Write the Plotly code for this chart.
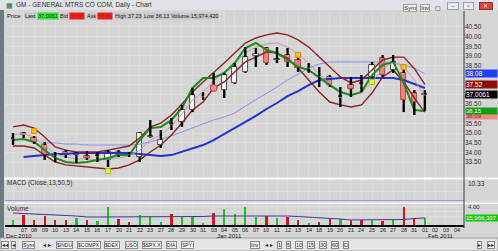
import plotly.graph_objects as go

W, H = 498, 251
def PX(x): return x / W
def PY(y): return 1 - y / H

FONT = "Liberation Sans"

# ---------------- data ----------------
dates = ["2010-12-06", "2010-12-07", "2010-12-08", "2010-12-09", "2010-12-10",
         "2010-12-13", "2010-12-14", "2010-12-15", "2010-12-16", "2010-12-17",
         "2010-12-20", "2010-12-21", "2010-12-22", "2010-12-23", "2010-12-27",
         "2010-12-28", "2010-12-29", "2010-12-30", "2010-12-31",
         "2011-01-03", "2011-01-04", "2011-01-05", "2011-01-06", "2011-01-07",
         "2011-01-10", "2011-01-11", "2011-01-12", "2011-01-13", "2011-01-14",
         "2011-01-18", "2011-01-19", "2011-01-20", "2011-01-21", "2011-01-24",
         "2011-01-25", "2011-01-26", "2011-01-27", "2011-01-28", "2011-01-31",
         "2011-02-01"]
future_dates = ["2011-02-02", "2011-02-03", "2011-02-04"]

opens = [34.68, 35.00, 34.75, 34.38, 33.74, 34.02, 33.86, 33.81, 33.80, 33.61,
         34.02, 33.86, 33.76, 34.78, 34.38, 35.45, 35.58, 36.20, 36.90, 37.44,
         37.23, 37.60, 38.17, 39.00, 39.41, 38.80, 39.05, 38.79, 38.35, 37.90,
         37.91, 36.85, 37.49, 37.55, 37.91, 38.89, 38.27, 38.12, 37.08, 36.96]
highs = [35.00, 35.06, 34.85, 34.54, 34.02, 34.12, 34.02, 34.07, 34.02, 34.12,
         34.12, 34.02, 35.06, 35.68, 35.16, 35.78, 36.46, 37.34, 37.13, 38.12,
         38.12, 38.63, 39.46, 39.41, 39.46, 39.46, 39.41, 38.89, 38.63, 38.43,
         38.01, 37.39, 37.91, 38.01, 38.69, 39.05, 39.05, 38.27, 37.23, 37.23]
lows = [34.38, 34.75, 34.44, 33.61, 33.50, 33.71, 33.45, 33.61, 33.50, 33.24,
        33.76, 33.76, 33.50, 34.75, 34.23, 35.16, 35.32, 36.09, 36.72, 37.18,
        36.82, 37.55, 38.12, 38.43, 38.53, 38.63, 38.43, 38.17, 38.12, 37.39,
        37.39, 36.35, 36.87, 37.13, 37.86, 37.91, 38.12, 36.09, 35.94, 36.13]
closes = [34.72, 34.90, 34.54, 33.86, 33.78, 33.86, 33.97, 33.71, 33.84, 34.02,
          33.86, 33.90, 35.00, 34.85, 34.64, 35.50, 36.20, 36.97, 36.94, 37.23,
          38.01, 38.43, 38.94, 39.10, 38.63, 38.82, 38.69, 38.37, 38.40, 37.95,
          37.49, 36.90, 37.29, 37.60, 38.53, 38.01, 38.69, 36.72, 36.61, 37.0061]
# candle style: w = hollow up, r = down, k = narrow-range bar
candle_kind = ["k", "r", "r", "r", "k", "r", "w", "r", "k", "w",
               "r", "k", "w", "w", "w", "k", "w", "w", "k", "r",
               "w", "w", "w", "w", "r", "w", "r", "r", "k", "k",
               "r", "k", "r", "k", "w", "r", "w", "r", "r", "w"]

band_upper = [35.32, 35.42, 35.26, 34.80, 34.28, 34.12, 34.02, 34.02, 34.02, 34.12,
              34.23, 34.33, 34.75, 35.32, 35.52, 35.94, 36.51, 37.13, 37.65, 38.12,
              38.63, 39.15, 39.67, 39.93, 40.09, 40.19, 40.09, 39.83, 39.46, 38.94,
              38.43, 37.91, 37.60, 37.75, 38.27, 38.79, 38.94, 38.94, 38.35, 37.52]
band_mid = [34.95, 34.95, 34.80, 34.38, 33.92, 33.76, 33.66, 33.66, 33.61, 33.66,
            33.71, 33.81, 34.12, 34.64, 34.90, 35.37, 35.99, 36.72, 37.13, 37.70,
            38.17, 38.63, 39.15, 39.46, 39.62, 39.67, 39.46, 39.10, 38.63, 38.06,
            37.55, 37.18, 36.97, 37.08, 37.65, 38.32, 38.69, 38.43, 37.75, 36.92]
band_lower = [34.33, 34.33, 34.23, 33.86, 33.50, 33.35, 33.29, 33.24, 33.19, 33.14,
              33.19, 33.35, 33.61, 34.02, 34.38, 34.90, 35.52, 36.20, 36.61, 37.34,
              37.65, 38.17, 38.69, 38.94, 39.20, 39.15, 38.89, 38.37, 37.75, 37.13,
              36.61, 36.46, 36.35, 36.46, 37.08, 37.91, 38.27, 37.65, 36.82, 36.09]
ma_fast = [34.64, 34.69, 34.54, 34.12, 33.71, 33.50, 33.45, 33.50, 33.61, 33.71,
           33.86, 33.86, 34.64, 35.26, 35.32, 35.68, 36.30, 37.34, 37.86, 37.86,
           38.12, 38.63, 39.41, 39.67, 39.31, 39.15, 38.79, 38.43, 38.27, 37.86,
           37.49, 37.13, 36.97, 37.13, 38.01, 38.53, 38.69, 37.60, 36.20, 36.15]
ma_mid = [None, None, None, 34.49, 34.49, 34.43, 34.43, 34.38, 34.38, 34.38,
          34.38, 34.38, 34.43, 34.54, 34.69, 34.85, 35.06, 35.26, 35.47, 35.68,
          35.83, 36.04, 36.40, 36.72, 37.08, 37.39, 37.75, 38.06, 38.37, 38.58,
          38.69, 38.69, 38.69, 38.69, 38.69, 38.69, 38.63, 38.53, 38.37, 38.08]
ma_slow = [None, 33.76, 33.81, 33.86, 33.92, 33.92, 33.97, 33.97, 33.97, 33.97,
           33.97, 33.97, 33.92, 33.86, 33.81, 33.86, 34.02, 34.18, 34.38, 34.64,
           34.95, 35.26, 35.58, 35.89, 36.25, 36.56, 36.92, 37.18, 37.49, 37.75,
           37.80, 37.86, 37.86, 37.86, 37.86, 37.86, 37.86, 37.75, 37.55, 37.34]

alert_top_idx = [2, 27, 37]
alert_top_px = [35.11, 39.05, 38.43]
alert_bot_idx = [9, 34]
alert_bot_px = [33.03, 37.65]
dot_idx = [19]
dot_px = [37.34]

volume_m = [12, 22, 12, 20, 12, 12, 16, 12, 10, 38, 14, 8, 22, 20, 8, 24, 18, 18, 6, 26,
            34, 24, 38, 18, 20, 16, 18, 12, 6, 8, 14, 14, 12, 12, 12, 10, 14, 38, 16, 15.97]
volume_up = [1, 0, 0, 0, 0, 0, 1, 0, 1, 1, 0, 0, 1, 1, 1, 0, 1, 1, 1, 0,
             1, 1, 1, 1, 0, 1, 0, 0, 1, 0, 0, 1, 0, 0, 1, 0, 1, 0, 0, 1]
volume_ma = [26, 25, 24, 23, 23, 22, 20, 18, 18, 18, 18, 18, 18, 18, 18, 18, 19, 19, 19, 20,
             20, 20, 20, 21, 21, 20, 20, 19, 18, 17, 16, 14, 12, 12, 12, 12, 12, 13, 15, 16]

price_ticks = [33.5, 34.0, 34.5, 35.0, 35.5, 36.0, 36.5, 37.0, 37.5, 38.0, 38.5, 39.0, 39.5, 40.0, 40.5]
hidden_ticks = [36.0, 37.0, 37.5, 38.0]  # covered by the price boxes
right_boxes = [  # (value, label, bg colour, text colour, font size) in drawing order
    (38.08, "38.08", "#1f3cf0", "#ffffff", 6.5),
    (37.52, "37.52", "#8a1010", "#ffffff", 6.5),
    (37.0061, "37.0061", "#000000", "#ffffff", 6.5),
    (35.88, "36.09", "#f08a84", "#8a2a2a", 6),
    (36.17, "36.15", "#12a012", "#ffffff", 6),
]
mid_box_value = 36.92  # partly hidden box of the middle band

# ---------------- figure ----------------
BG = "#d5d5d5"
GRID = "#dddddd"
n = len(dates)
xs = list(range(n))
all_dates = dates + future_dates

fig = go.Figure()

def line(y, color, width, yaxis="y"):
    fig.add_trace(go.Scatter(x=xs, y=y, mode="lines", yaxis=yaxis, hoverinfo="skip",
                             line=dict(color=color, width=width), showlegend=False))

line(ma_mid, "#8f8ff0", 1)
line(ma_slow, "#2233cc", 2)
line(band_mid, "#c49aa6", 1)
line(band_upper, "#8b2323", 1.4)
line(band_lower, "#8b2323", 1.4)
line(ma_fast, "#1c8a1c", 2)

# candle wicks (drawn outside the body)
wx, wy = [], []
for i in xs:
    o, h, l, c = opens[i], highs[i], lows[i], closes[i]
    top, bot = max(o, c), min(o, c)
    wx += [i, i, None, i, i, None]
    wy += [bot, l, None, top, h, None]
fig.add_trace(go.Scatter(x=wx, y=wy, mode="lines", line=dict(color="#000000", width=2.4),
                         hoverinfo="skip", showlegend=False))

body_colors = {"w": "#ffffff", "r": "#f0827a", "k": "#000000"}
fig.add_trace(go.Bar(
    x=xs, base=[min(o, c) for o, c in zip(opens, closes)],
    y=[max(abs(c - o), 0.04) for o, c in zip(opens, closes)],
    width=[0.5 if k != "k" else 0.22 for k in candle_kind],
    marker=dict(color=[body_colors[k] for k in candle_kind],
                line=dict(color=["#222222" if k == "w" else "#a03030" if k == "r" else "#000000"
                                 for k in candle_kind], width=0.8)),
    hoverinfo="skip", showlegend=False))

fig.add_trace(go.Scatter(x=alert_top_idx, y=alert_top_px, mode="markers",
                         marker=dict(symbol="square", size=5, color="#ffc21a",
                                     line=dict(color="#e08a00", width=1)),
                         hoverinfo="skip", showlegend=False))
fig.add_trace(go.Scatter(x=alert_bot_idx, y=alert_bot_px, mode="markers",
                         marker=dict(symbol="square", size=5, color="#d8ff40",
                                     line=dict(color="#9acd00", width=1)),
                         hoverinfo="skip", showlegend=False))
fig.add_trace(go.Scatter(x=dot_idx, y=dot_px, mode="markers",
                         marker=dict(symbol="circle", size=7, color="#f08a84",
                                     line=dict(color="#b04040", width=1)),
                         hoverinfo="skip", showlegend=False))

# MACD panel placeholder (panel exists, no visible study data)
fig.add_trace(go.Scatter(x=[None], y=[None], yaxis="y2", showlegend=False, hoverinfo="skip"))

# volume
fig.add_trace(go.Bar(x=xs, y=volume_m, yaxis="y3", width=0.22,
                     marker=dict(color=["#22c022" if u else "#d01818" for u in volume_up], line_width=0),
                     hoverinfo="skip", showlegend=False))
line(volume_ma, "#3a3aa0", 1, "y3")

# ---------------- layout ----------------
day_labels = [d[-2:] for d in all_dates]
shapes = [
    # title bar
    dict(type="rect", xref="paper", yref="paper", x0=0, x1=1, y0=PY(10), y1=1,
         fillcolor="#dfe3e9", line_width=0, layer="below"),
    # left frame
    dict(type="rect", xref="paper", yref="paper", x0=0, x1=PX(4), y0=PY(238), y1=PY(10),
         fillcolor="#6d7b80", line_width=0),
    # panel separators
    dict(type="rect", xref="paper", yref="paper", x0=PX(4), x1=1, y0=PY(179.5), y1=PY(177.5),
         fillcolor="#ffffff", line_width=0),
    dict(type="rect", xref="paper", yref="paper", x0=PX(4), x1=1, y0=PY(204), y1=PY(202.5),
         fillcolor="#ffffff", line_width=0),
    # MACD bottom line
    dict(type="line", xref="paper", yref="paper", x0=PX(5), x1=PX(464), y0=PY(200.5), y1=PY(200.5),
         line=dict(color="#9a9ad8", width=1)),
    # volume baseline
    dict(type="line", xref="paper", yref="y3", x0=PX(5), x1=PX(464), y0=0, y1=0,
         line=dict(color="#000000", width=2.2)),
    # right axis divider
    dict(type="line", xref="paper", yref="paper", x0=PX(464), x1=PX(464), y0=PY(228), y1=PY(11),
         line=dict(color="#3a3a3a", width=1)),
    # last bar marker line
    dict(type="line", xref="x", yref="paper", x0=n - 1, x1=n - 1, y0=PY(227), y1=PY(11),
         line=dict(color="#ececec", width=1), layer="below"),
    # partly hidden middle-band price box
    dict(type="rect", xref="paper", yref="y", x0=PX(465), x1=PX(496),
         y0=mid_box_value - 0.1, y1=mid_box_value + 0.08, fillcolor="#6a1a78", line_width=0),
    # bottom tab bar
    dict(type="rect", xref="paper", yref="paper", x0=0, x1=1, y0=0, y1=PY(238),
         fillcolor="#e4e4e4", line=dict(color="#9a9a9a", width=1)),
]

ann = []
def text(x, y, s, size=6.5, color="#202020", bg=None, border=None, xanchor="left", w=None):
    d = dict(x=PX(x), y=PY(y), xref="paper", yref="paper", text=s, showarrow=False,
             xanchor=xanchor, yanchor="middle", font=dict(family=FONT, size=size, color=color),
             borderpad=0)
    if bg:
        d["bgcolor"] = bg
    if border:
        d["bordercolor"] = border
        d["borderwidth"] = 1
    if w:
        d["width"] = w
    ann.append(d)

# title bar
ann.append(dict(x=PX(4), y=PY(5.5), xref="paper", yref="paper", text="▦", showarrow=False,
                xanchor="left", yanchor="middle", font=dict(family=FONT, size=7, color="#2a7a2a")))
text(15, 5.5, "GM - GENERAL MTRS CO COM, Daily - Chart", 6.5, "#303030")
text(403, 8, "Sym", 6, "#202020", "#f4f4f4", "#a0a0a0")
text(420, 8, "Inv", 6, "#202020", "#f4f4f4", "#a0a0a0")
text(434, 8, "▢", 6, "#202020")
text(447, 6, "  –  ", 6, "#404040", "#e6eaf0", "#9aa0a8")
text(463, 6, "  ▫  ", 6, "#404040", "#e6eaf0", "#9aa0a8")
text(479, 6, "  ✕  ", 6, "#ffffff", "#d9433a", "#a03028")

# quote row
text(6, 16, "Price", 6, "#202020")
text(24, 16, "Last", 5.5, "#202020", "#c8c8c8")
text(37, 16, "37.0061", 5.5, "#104010", "#36e236")
text(59, 16, "Bid", 5.5, "#202020", "#c8c8c8")
text(69, 16, "37.00", 5.5, "#c81010", "#ee2020")
text(86, 16, "Ask", 5.5, "#202020", "#c8c8c8")
text(97, 16, "37.01", 5.5, "#c81010", "#ee2020")
text(114, 16, "High 37.23", 5.5, "#202020", "#c8c8c8")
text(143, 16, "Low 36.13", 5.5, "#202020", "#c8c8c8")
text(170, 16, "Volume 15,974,420", 5.5, "#202020", "#c8c8c8")

# right price boxes
for v, s, bg, fg, fs in right_boxes:
    ann.append(dict(x=PX(465), y=v, xref="paper", yref="y", text=s, showarrow=False,
                    xanchor="left", yanchor="middle", bgcolor=bg, width=31, align="left",
                    font=dict(family=FONT, size=fs, color=fg), borderpad=0))

# panel labels
text(6, 183, "MACD (Close,13,50,5)", 6.5, "#303030")
text(467, 183, "10.33", 6.5, "#303030")
text(6, 208, "Volume", 6.5, "#303030")
text(467, 206.5, "4.00", 6, "#303030")
ann.append(dict(x=PX(465), y=volume_m[-1], xref="paper", yref="y3", text="15,966,307", showarrow=False,
                xanchor="left", yanchor="middle", bgcolor="#14c814", width=32, align="left",
                font=dict(family=FONT, size=6, color="#ffffff"), borderpad=0))

# day labels under the volume panel
for i in range(1, len(all_dates)):
    ann.append(dict(x=i, y=PY(229.8), xref="x", yref="paper", text=day_labels[i], showarrow=False,
                    xanchor="center", yanchor="middle",
                    font=dict(family=FONT, size=5.5, color="#202020")))

# month labels
text(5, 236, "Dec 2010", 6, "#202020")
ann.append(dict(x=19.1, y=PY(236), xref="x", yref="paper", text="Jan 2011", showarrow=False,
                xanchor="left", yanchor="middle", font=dict(family=FONT, size=6, color="#202020")))
ann.append(dict(x=39.1, y=PY(236), xref="x", yref="paper", text="Feb 2011", showarrow=False,
                xanchor="left", yanchor="middle", font=dict(family=FONT, size=6, color="#202020")))

# bottom tab bar
tab_items = [(1, "◂◂"), (11, "◂"), (22, "Sym")]
for x, s in tab_items:
    text(x, 244.5, s, 5.5, "#202020", "#f2f2f2", "#8a8a8a")
text(42, 244.5, "◂ ▸", 5.5, "#202020")
tabs = ["$INDU", "$COMPX", "$DEX", "USO", "$SPX.X", "DIA", "SPY"]
tab_x = [56, 77, 104, 125, 142, 166, 181]
for x, s in zip(tab_x, tabs):
    text(x, 244.5, s, 5, "#202020", "#f6f6f6", "#8a8a8a")
text(250, 244.5, "Inv", 5.5, "#202020", "#f2f2f2", "#8a8a8a")
text(264, 244.5, "◂ ▸", 5.5, "#202020")
ints = ["1", "5", "10", "15", "30", "60", "D"]
int_x = [277, 286, 295, 307, 319, 331, 343]
for x, s in zip(int_x, ints):
    text(x, 244.5, s, 5.5, "#202020", "#f6f6f6", "#8a8a8a")
text(477, 244.5, "▸", 5.5, "#202020", "#f2f2f2", "#8a8a8a")
text(487, 244.5, "▸▸", 5.5, "#202020", "#f2f2f2", "#8a8a8a")

x_lo = (5 - 13) / 10.56
x_hi = (464 - 13) / 10.56

fig.update_layout(
    width=W, height=H, margin=dict(l=0, r=0, t=0, b=0),
    paper_bgcolor=BG, plot_bgcolor=BG, showlegend=False, bargap=0, barmode="overlay",
    font=dict(family=FONT, size=6.5, color="#202020"),
    xaxis=dict(domain=[PX(5), PX(464)], range=[x_lo, x_hi], anchor="y3",
               tickvals=list(range(0, len(all_dates))), showticklabels=False, ticks="",
               showgrid=True, gridcolor=GRID, gridwidth=1, zeroline=False, showline=False,
               fixedrange=True),
    yaxis=dict(domain=[PY(177), PY(11)], range=[32.724, 41.329], anchor="x", side="right",
               tickvals=price_ticks,
               ticktext=["" if v in hidden_ticks else "%.2f" % v for v in price_ticks],
               tickfont=dict(size=6.5, color="#303030"), ticks="", showgrid=True,
               gridcolor=GRID, zeroline=False, showline=False),
    yaxis2=dict(domain=[PY(202), PY(180)], range=[0, 1], anchor="x", showticklabels=False,
                showgrid=True, gridcolor=GRID, dtick=0.5, zeroline=False),
    yaxis3=dict(domain=[PY(227), PY(204)], range=[-2, 44], anchor="x", showticklabels=False,
                showgrid=True, gridcolor=GRID, dtick=10, zeroline=False),
    shapes=shapes, annotations=ann,
)

fig.write_html("out.html")
